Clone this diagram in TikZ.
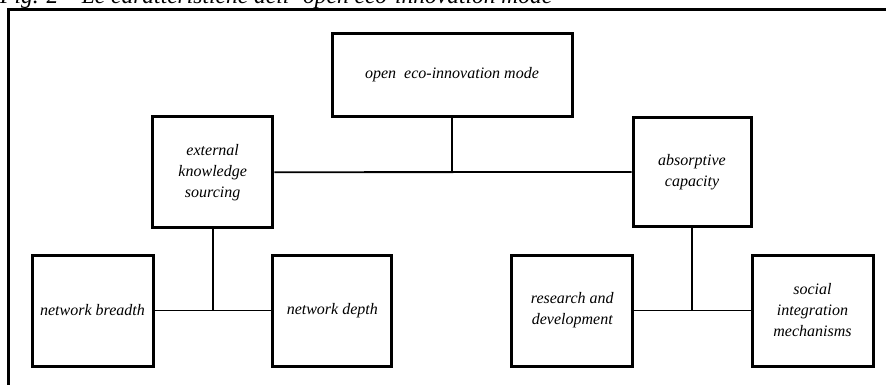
\documentclass[tikz,border=0pt]{standalone}
\usepackage{fontspec}
\setmainfont{Liberation Serif}
\begin{document}
\begin{tikzpicture}[x=1pt,y=-1pt,
  box/.style={draw,line width=3pt,inner sep=0pt,align=center,
    font=\fontsize{16}{21}\selectfont\itshape},
  link/.style={line width=1.8pt},
  frame/.style={line width=3pt}]
\useasboundingbox (0,0) rectangle (886,385);
% caption
\node[anchor=base west,inner sep=0pt,font=\fontsize{23.5}{26}\selectfont\itshape] (cap) at (0,4)
  {Fig. 2 – Le caratteristiche dell’ open eco-innovation mode};
% frame
\coordinate (fc) at (8.8,9.5);
\coordinate (fr) at (900,9.5);
\coordinate (fb) at (8.8,400);
\draw[frame] (fr) -- (fc) -- (fb);
% boxes
\node[box,minimum width=240pt,minimum height=83.4pt] (top) at (452,75) {open\ \ eco-innovation mode};
\node[box,minimum width=120.5pt,minimum height=111pt] (ext) at (212.7,172.2) {external\\knowledge\\sourcing};
\node[box,minimum width=118pt,minimum height=109.5pt] (abs) at (692,172) {absorptive\\capacity};
\node[box,minimum width=121pt,minimum height=111pt] (nb) at (92.5,310.5) {network breadth};
\node[box,minimum width=119.3pt,minimum height=111pt] (nd) at (332.3,310.5) {network depth};
\node[box,minimum width=120.7pt,minimum height=111pt] (rd) at (572.3,310.5) {research and\\development};
\node[box,minimum width=121pt,minimum height=111pt] (si) at (812.5,310.5) {social\\integration\\mechanisms};
% connectors
\draw[link] (ext.east) -- (abs.west);
\draw[link] (top.south) -- (top.south |- ext.east);
\draw[link] (nb.east) -- (nd.west);
\draw[link] (ext.south) -- (ext.south |- nb.east);
\draw[link] (rd.east) -- (si.west);
\draw[link] (abs.south) -- (abs.south |- rd.east);
\end{tikzpicture}
\end{document}
